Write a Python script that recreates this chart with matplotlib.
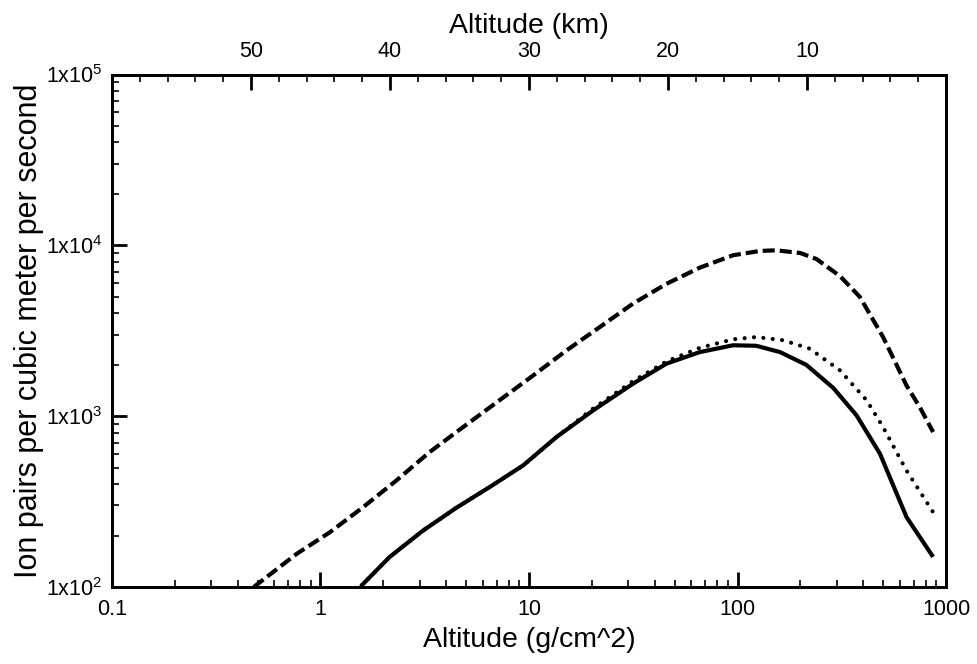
import matplotlib
matplotlib.use('Agg')
import matplotlib.pyplot as plt
from matplotlib.ticker import LogLocator, FixedLocator, MultipleLocator, NullFormatter

plt.rcParams['font.family'] = ['Liberation Sans', 'DejaVu Sans']
plt.rcParams['mathtext.default'] = 'regular'

# depth (g/cm^2) and ion pair production
dash_x = [0.479, 0.767, 1.109, 1.600, 2.317, 3.342, 4.831, 6.982, 10.47, 15.14, 21.88,
          31.55, 45.6, 65.9, 95.3, 128, 153, 200, 239, 310, 386, 499, 646, 748, 867]
dash_y = [100, 156, 209, 293, 421, 617, 863, 1202, 1730, 2427, 3327,
          4560, 5950, 7400, 8750, 9268, 9354, 9016, 8318, 6607, 4989, 2904, 1514, 1130, 807]

solid_x = [1.574, 2.148, 3.105, 4.487, 6.486, 9.376, 13.55, 20.32, 31.55, 45.6,
           65.9, 95.3, 123, 160, 214, 288, 372, 482, 647, 867]
solid_y = [102, 150, 214, 291, 385, 515, 755, 1081, 1549, 2028,
           2371, 2600, 2582, 2371, 1995, 1462, 1012, 603, 256, 150]

dot_x = [1.574, 2.148, 3.105, 4.487, 6.486, 9.376, 13.55, 20.32, 31.55, 45.6,
         65.9, 95.3, 123, 166, 222, 310, 416, 499, 646, 867]
dot_y = [102, 150, 214, 291, 385, 515, 755, 1109, 1603, 2089,
         2512, 2818, 2904, 2780, 2483, 1854, 1239, 863, 481, 274]

km_ticks = [50, 40, 30, 20, 10]
x_ticks = [0.1, 1, 10, 100, 1000]
x_labels = ['0.1', '1', '10', '100', '1000']
y_ticks = [1e2, 1e3, 1e4, 1e5]
y_labels = ['1x10$^{2}$', '1x10$^{3}$', '1x10$^{4}$', '1x10$^{5}$']

fig = plt.figure(figsize=(9.77, 6.64), dpi=100)
ax = fig.add_axes([0.1146, 0.116, 0.8537, 0.7718])

lw = 3.0
ax.plot(dash_x, dash_y, color='black', lw=lw, linestyle=(0, (2.9, 1.2)))
ax.plot(dot_x, dot_y, color='black', lw=lw, linestyle=(0, (0.01, 2.25)),
        dash_capstyle='round')
ax.plot(solid_x, solid_y, color='black', lw=lw, solid_capstyle='butt',
        solid_joinstyle='round')

ax.set_xscale('log')
ax.set_yscale('log')
ax.set_xlim(0.1, 1000)
ax.set_ylim(1e2, 1e5)

ax.set_xticks(x_ticks)
ax.set_xticklabels(x_labels)
ax.set_yticks(y_ticks)
ax.set_yticklabels(y_labels)
ax.xaxis.set_minor_locator(LogLocator(base=10, subs=range(2, 10)))
ax.yaxis.set_minor_locator(LogLocator(base=10, subs=range(2, 10)))
ax.xaxis.set_minor_formatter(NullFormatter())
ax.yaxis.set_minor_formatter(NullFormatter())

ax.tick_params(which='both', direction='in', top=False, right=False)
ax.tick_params(which='major', length=11, width=2, labelsize=15.5)
ax.tick_params(axis='x', which='major', pad=9)
ax.tick_params(axis='y', which='major', pad=7)
ax.tick_params(which='minor', length=5, width=1.2)
for s in ax.spines.values():
    s.set_linewidth(2)

ax.set_xlabel('Altitude (g/cm^2)', fontsize=20.5, labelpad=5)
ax.set_ylabel('Ion pairs per cubic meter per second', fontsize=22, labelpad=1)

# altitude in km on the top axis
top = ax.twiny()
top.set_xlim(60, 0)
top.xaxis.set_major_locator(FixedLocator(km_ticks))
top.xaxis.set_minor_locator(MultipleLocator(2))
top.tick_params(which='both', direction='in')
top.tick_params(which='major', length=11, width=2, labelsize=15.5, pad=9)
top.tick_params(which='minor', length=5, width=1.2)
top.set_xlabel('Altitude (km)', fontsize=20.5, labelpad=6)
for s in top.spines.values():
    s.set_linewidth(2)

fig.savefig('out.png', dpi=100)
